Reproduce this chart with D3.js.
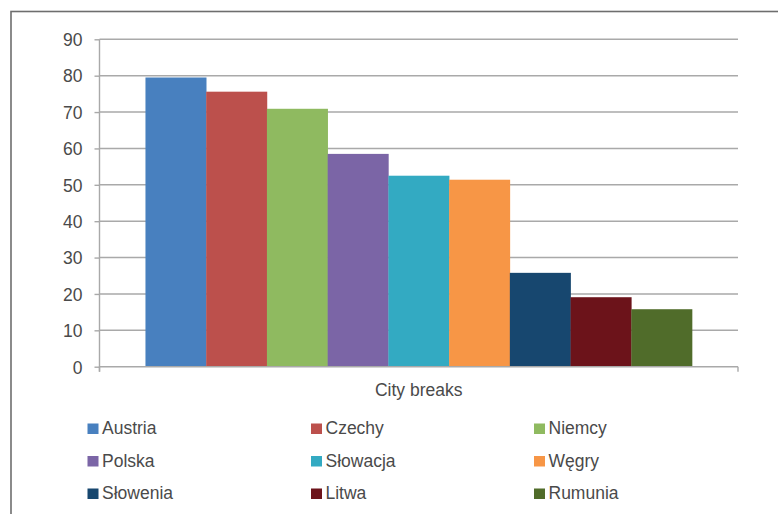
<!DOCTYPE html>
<html>
<head>
<meta charset="utf-8">
<script src="https://cdn.jsdelivr.net/npm/d3@7"></script>
<style>
  html, body { margin: 0; padding: 0; background: #fff; }
  svg { display: block; }
  text { font-family: "Liberation Sans", Arial, sans-serif; fill: #4a4a4a; }
</style>
</head>
<body>
<svg id="chart" width="778" height="514"></svg>
<script>
// Share of respondents choosing each country for city breaks
const categories = ["City breaks"];
const countries = ["Austria", "Czechy", "Niemcy", "Polska", "Słowacja", "Węgry", "Słowenia", "Litwa", "Rumunia"];
const values = [79.5, 75.6, 70.9, 58.5, 52.5, 51.4, 25.8, 19.1, 15.8];
const colors = ["#4880BF", "#BC504C", "#8FBA60", "#7B65A6", "#33AAC2", "#F79646", "#17476F", "#6C131A", "#506C2A"];
const yTicks = [0, 10, 20, 30, 40, 50, 60, 70, 80, 90];

const svg = d3.select("#chart");

// frame around the chart
svg.append("rect")
  .attr("x", 11).attr("y", 11.5)
  .attr("width", 800).attr("height", 560)
  .attr("fill", "none")
  .attr("stroke", "#6e6e6e")
  .attr("stroke-width", 1.6);

const plotLeft = 99.5, plotRight = 738, plotTop = 39.3, plotBottom = 366.7;

const y = d3.scaleLinear().domain([0, 90]).range([plotBottom, plotTop]);
const x0 = d3.scaleBand().domain(categories).range([plotLeft, plotRight])
  .paddingInner(0).paddingOuter(0.0841);
const x1 = d3.scaleBand().domain(countries).range([0, x0.bandwidth()]).padding(0);

// horizontal gridlines
svg.append("g").selectAll("line")
  .data(yTicks.filter(d => d > 0))
  .join("line")
  .attr("x1", plotLeft).attr("x2", plotRight)
  .attr("y1", d => y(d)).attr("y2", d => y(d))
  .attr("stroke", "#a9a9a9")
  .attr("stroke-width", 1.4);

// bars
const group = svg.append("g")
  .selectAll("g")
  .data(categories)
  .join("g")
  .attr("transform", d => `translate(${x0(d)},0)`);

group.selectAll("rect")
  .data(countries.map((c, i) => ({ c, v: values[i], col: colors[i] })))
  .join("rect")
  .attr("x", d => x1(d.c))
  .attr("width", x1.bandwidth() + 0.3)
  .attr("y", d => y(d.v))
  .attr("height", d => y(0) - y(d.v))
  .attr("fill", d => d.col);

// y axis
const yAxis = d3.axisLeft(y).tickValues(yTicks).tickSize(5).tickPadding(12);
const gy = svg.append("g").attr("transform", `translate(${plotLeft},0)`).call(yAxis);
gy.select(".domain").remove();
gy.append("line").attr("x1", 0).attr("x2", 0).attr("y1", plotTop).attr("y2", plotBottom + 5)
  .attr("stroke", "#a9a9a9").attr("stroke-width", 1.4);
gy.selectAll(".tick line").attr("stroke", "#a9a9a9").attr("stroke-width", 1.4);
gy.selectAll(".tick text")
  .style("font-family", "'Liberation Sans', Arial, sans-serif")
  .style("font-size", "17.5px")
  .attr("fill", "#4a4a4a")
  .attr("dy", "0.36em");

// x axis
const xAxis = d3.axisBottom(x0).tickSize(0).tickPadding(17);
const gx = svg.append("g").attr("transform", `translate(0,${plotBottom})`).call(xAxis);
gx.select(".domain").remove();
gx.append("line").attr("x1", plotLeft).attr("x2", plotRight).attr("y1", 0).attr("y2", 0)
  .attr("stroke", "#a9a9a9").attr("stroke-width", 1.4);
gx.selectAll(".edge")
  .data([plotLeft, plotRight])
  .join("line")
  .attr("class", "edge")
  .attr("x1", d => d).attr("x2", d => d)
  .attr("y1", 0).attr("y2", 5)
  .attr("stroke", "#a9a9a9").attr("stroke-width", 1.4);
gx.selectAll(".tick text")
  .style("font-family", "'Liberation Sans', Arial, sans-serif")
  .style("font-size", "17.5px")
  .attr("fill", "#4a4a4a");

// legend: three columns, three rows
const legend = svg.append("g");
const colX = [87.5, 311, 534];
const rowY = [434, 466.5, 499];
const items = legend.selectAll("g")
  .data(countries.map((c, i) => ({ c, col: colors[i], i })))
  .join("g")
  .attr("transform", d => `translate(${colX[d.i % 3]},${rowY[Math.floor(d.i / 3)]})`);
items.append("rect")
  .attr("x", 0).attr("y", -10.5)
  .attr("width", 11).attr("height", 10.5)
  .attr("fill", d => d.col);
items.append("text")
  .attr("x", 14.5).attr("y", 0)
  .style("font-size", "17.5px")
  .attr("fill", "#444")
  .text(d => d.c);
</script>
</body>
</html>
